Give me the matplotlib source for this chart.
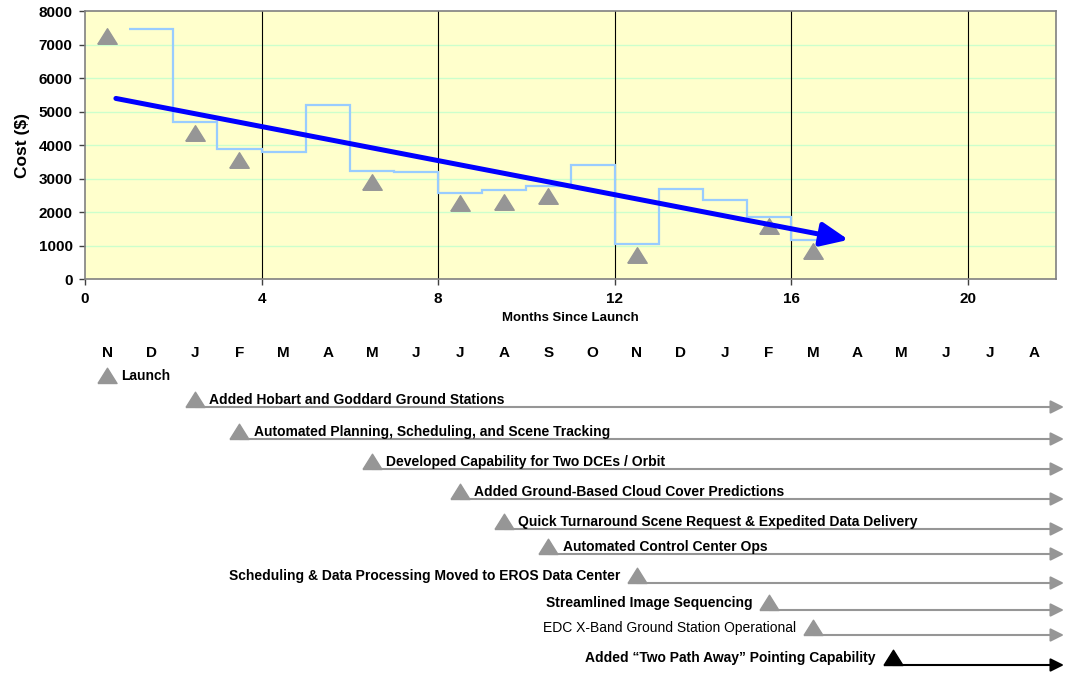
import numpy as np
import matplotlib
matplotlib.use("Agg")
import matplotlib.pyplot as plt
from matplotlib.markers import MarkerStyle

plt.rcParams['font.family'] = ['Liberation Sans', 'DejaVu Sans']

# monthly operations cost, one step per month since launch
cost_edges = [1, 2, 3, 4, 5, 6, 7, 8, 9, 10, 11, 12, 13, 14, 15, 16, 16.7]
monthly_cost = [7450, 4700, 3890, 3790, 5200, 3230, 3200, 2580, 2670, 2770,
                3400, 1050, 2690, 2370, 1850, 1160]

# milestone events (months since launch) and cost level marked at each
event_month = [0.5, 2.5, 3.5, 6.5, 8.5, 9.5, 10.5, 12.5, 15.5, 16.5, 18.3]
event_cost = [7250, 4350, 3540, 2910, 2260, 2290, 2480, 715, 1570, 850]
event_names = [
    "Launch",
    "Added Hobart and Goddard Ground Stations",
    "Automated Planning, Scheduling, and Scene Tracking",
    "Developed Capability for Two DCEs / Orbit",
    "Added Ground-Based Cloud Cover Predictions",
    "Quick Turnaround Scene Request & Expedited Data Delivery",
    "Automated Control Center Ops",
    "Scheduling & Data Processing Moved to EROS Data Center",
    "Streamlined Image Sequencing",
    "EDC X-Band Ground Station Operational",
    "Added \u201cTwo Path Away\u201d Pointing Capability",
]
label_side = ['r', 'r', 'r', 'r', 'r', 'r', 'r', 'l', 'l', 'l', 'l']
label_weight = ['bold'] * 9 + ['normal', 'bold']
month_letters = ["N", "D", "J", "F", "M", "A", "M", "J", "J", "A", "S",
                 "O", "N", "D", "J", "F", "M", "A", "M", "J", "J", "A"]

# trend arrow end points (month, cost)
trend_start = (0.7, 5390)
trend_end = (17.3, 1170)

gray = '#969696'
tri_center = MarkerStyle([(-1, -0.8), (1, -0.8), (0, 0.8), (-1, -0.8)])
tri_base = MarkerStyle([(-1, 0), (1, 0), (0, 1.6), (-1, 0)])

fig = plt.figure(figsize=(10.65, 6.73), dpi=100)
W, H = 1065, 673
x0, x1 = 85, 1056

# ---- cost chart ----
ax = fig.add_axes([x0 / W, 1 - 279 / H, (x1 - x0) / W, (279 - 11) / H])
ax.set_facecolor('#FFFFCC')
ax.set_xlim(0, 22)
ax.set_ylim(0, 8000)
ax.set_xticks([0, 4, 8, 12, 16, 20])
ax.set_yticks(np.arange(0, 8001, 1000))
for v in range(1000, 8000, 1000):
    ax.axhline(v, color='#CCFFCC', lw=1, zorder=1)
for v in [4, 8, 12, 16, 20]:
    ax.axvline(v, color='black', lw=0.8, zorder=1)
for s in ax.spines.values():
    s.set_color('#808080')
    s.set_linewidth(1.2)
ax.tick_params(direction='out', length=4, width=1, color='#404040',
               labelsize=11, pad=5)
for lab in ax.get_xticklabels() + ax.get_yticklabels():
    lab.set_fontweight('bold')

ax.stairs(monthly_cost, cost_edges, baseline=None, color='#99CCFF', lw=1.6, zorder=3)
ax.plot(event_month[:len(event_cost)], event_cost, ls='none', marker=tri_center,
        ms=14, color=gray, mec=gray, zorder=4)
ax.annotate('', xy=trend_end, xytext=trend_start,
            arrowprops=dict(arrowstyle='-|>,head_length=0.55,head_width=0.24',
                            lw=3.6, color='#0000FF', mutation_scale=30,
                            shrinkA=0, shrinkB=0), zorder=5)
ax.set_ylabel('Cost ($)', fontsize=12.5, fontweight='bold', labelpad=6)
ax.set_xlabel('Months Since Launch', fontsize=9.5, fontweight='bold', labelpad=5)

# ---- milestone timeline ----
tl = fig.add_axes([x0 / W, 0, (x1 - x0) / W, (673 - 335) / H])
tl.set_xlim(0, 22)
tl.set_ylim(673, 335)
tl.axis('off')

for i, m in enumerate(month_letters):
    tl.text(i + 0.5, 353, m, ha='center', va='center', fontsize=11, fontweight='bold')

# baseline (in pixel rows) of each milestone row
row_y = [383, 407, 439, 469, 499, 529, 554, 583, 610, 635, 665]
arrow_end = 22.18
for i, (m, name, y) in enumerate(zip(event_month, event_names, row_y)):
    col = 'black' if i == len(event_names) - 1 else gray
    if i > 0:
        tl.annotate('', xy=(arrow_end, y), xytext=(m, y), annotation_clip=False,
                    arrowprops=dict(arrowstyle='-|>', lw=1.5, color=col,
                                    mutation_scale=20, shrinkA=0, shrinkB=0))
    tl.plot([m], [y], ls='none', marker=tri_base, ms=22, color=col, mec=col,
            zorder=4, clip_on=False)
    if label_side[i] == 'r':
        tl.text(m + 0.32, y - 7, name, ha='left', va='center', fontsize=10,
                fontweight=label_weight[i])
    else:
        tl.text(m - 0.38, y - 7, name, ha='right', va='center', fontsize=10,
                fontweight=label_weight[i])

fig.savefig('out.png', dpi=100)
